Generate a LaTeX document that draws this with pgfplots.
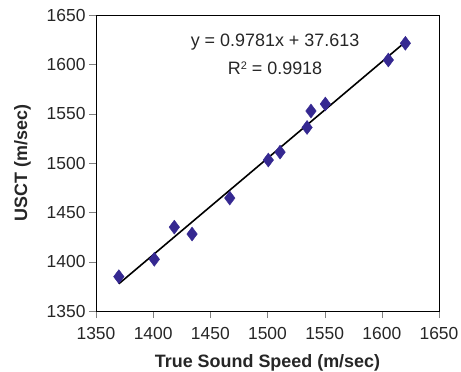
\documentclass[border=0pt]{standalone}
\usepackage{pgfplots}
\pgfplotsset{compat=1.18}
\usepackage{fontspec}
\setmainfont{Liberation Sans}
\definecolor{mk}{RGB}{53,40,145}
\begin{document}
\begin{tikzpicture}[x=1bp,y=1bp]
\begin{axis}[
  scale only axis,
  width=343bp, height=296bp,
  xmin=1350, xmax=1650, ymin=1350, ymax=1650,
  xtick={1350,1400,...,1650}, ytick={1350,1400,...,1650},
  tick align=outside, tick pos=left,
  major tick length=7bp,
  /pgf/number format/assume math mode=true,
  /pgf/number format/set thousands separator={},
  tick label style={font=\fontsize{17.5}{20}\selectfont, color=black!85},
  xticklabel style={yshift=-6bp},
  xlabel={\textbf{True Sound Speed (m/sec)}},
  ylabel={\textbf{USCT (m/sec)}},
  label style={font=\fontsize{18}{21}\selectfont, color=black!85},
  xlabel style={yshift=-8bp},
  ylabel style={yshift=9bp},
  axis line style={black, line width=0.8bp},
  clip=false,
]
\addplot[only marks, mark=diamond*, mark size=7bp, mk, mark options={fill=mk, draw=mk}] coordinates {
(1370,1384.8)
(1401,1402.4)
(1418.5,1435)
(1434,1428)
(1467,1464.5)
(1500.7,1503)
(1511,1511)
(1534.6,1536)
(1538,1552.7)
(1550.6,1559.8)
(1605.7,1604.4)
(1620.6,1621.3)
};
\addplot[black, line width=1.6bp] coordinates {(1370,1377.6) (1621,1623.1)};
\node[font=\fontsize{18}{21}\selectfont, color=black!85] at (axis cs:1506.6,1622.6) {y = 0.9781x + 37.613};
\node[font=\fontsize{18}{21}\selectfont, color=black!85] at (axis cs:1506.6,1596) {R\raisebox{0.6ex}{\fontsize{11}{12}\selectfont 2} = 0.9918};
\end{axis}
\pgfresetboundingbox
\path[use as bounding box] ([shift={(-96bp,-61bp)}]current axis.south west) rectangle ([shift={(22bp,15bp)}]current axis.north east);
\end{tikzpicture}
\end{document}
